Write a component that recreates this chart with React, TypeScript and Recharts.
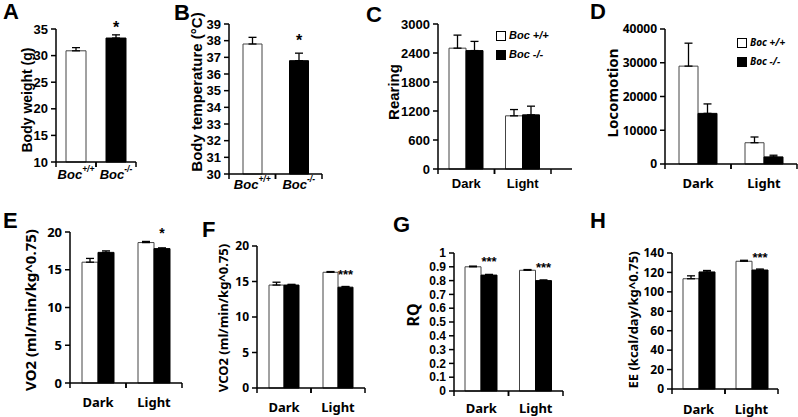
import { BarChart, Bar, XAxis, YAxis, ErrorBar, LabelList, Legend, Cell } from "recharts";

// A / B: one bar per genotype
const genotypes = ["+/+", "-/-"];

const bodyWeight = [30.9, 33.3];
const bodyWeightErr = [0.6, 0.6];
const bodyWeightSig = ["", "*"];
const bodyWeightTicks = [10, 15, 20, 25, 30, 35];

const bodyTemp = [37.8, 36.8];
const bodyTempErr = [0.4, 0.45];
const bodyTempSig = ["", "*"];
const bodyTempTicks = [30, 31, 32, 33, 34, 35, 36, 37, 38, 39];

// C - H: Dark / Light, wild type vs knockout
const phases = ["Dark", "Light"];

const rearingWT = [2500, 1100];
const rearingKO = [2450, 1120];
const rearingErrWT = [270, 130];
const rearingErrKO = [190, 180];
const rearingSig = ["", ""];
const rearingTicks = [0, 600, 1200, 1800, 2400, 3000];

const locoWT = [29000, 6300];
const locoKO = [15000, 2100];
const locoErrWT = [6800, 1700];
const locoErrKO = [2800, 500];
const locoSig = ["", ""];
const locoTicks = [0, 10000, 20000, 30000, 40000];

const vo2WT = [16.0, 18.6];
const vo2KO = [17.3, 17.8];
const vo2ErrWT = [0.5, 0.15];
const vo2ErrKO = [0.2, 0.1];
const vo2Sig = ["", "*"];
const vo2Ticks = [0, 5, 10, 15, 20];

const vco2WT = [14.5, 16.3];
const vco2KO = [14.5, 14.2];
const vco2ErrWT = [0.4, 0.1];
const vco2ErrKO = [0.1, 0.1];
const vco2Sig = ["", "***"];
const vco2Ticks = [0, 5, 10, 15, 20];

const rqWT = [0.9, 0.875];
const rqKO = [0.84, 0.8];
const rqErrWT = [0.005, 0.005];
const rqErrKO = [0.005, 0.005];
const rqSig = ["***", "***"];
const rqTicks = [0, 0.1, 0.2, 0.3, 0.4, 0.5, 0.6, 0.7, 0.8, 0.9, 1];

const eeWT = [113.5, 131.5];
const eeKO = [120.5, 122.5];
const eeErrWT = [3, 1];
const eeErrKO = [1.5, 1];
const eeSig = ["", "***"];
const eeTicks = [0, 20, 40, 60, 80, 100, 120, 140];

const legendNames = ["Boc +/+", "Boc -/-"];

const ARIAL = "'Liberation Sans', Arial, sans-serif";
const MALGUN = "'Noto Sans', 'DejaVu Sans', sans-serif";

const singleRows = (vals: number[], errs: number[], sig: string[]) =>
  genotypes.map((g, i) => ({ name: g, value: vals[i], err: [0, errs[i]], sig: sig[i] }));

const groupRows = (wt: number[], ko: number[], wtErr: number[], koErr: number[], sig: string[]) =>
  phases.map((p, i) => ({ name: p, wt: wt[i], ko: ko[i], wtErr: [0, wtErr[i]], koErr: [0, koErr[i]], sig: sig[i] }));

type Cfg = {
  left: number; top: number; width: number; height: number;
  yw: number; mt: number; mr: number; xh: number;
  ticks: number[];
  title: string; tx: number; ty: number; titleSize: number;
  font: string; tickFont?: string; tickSize: number; labelSize: number; labelGap: number;
  barSize: number; padRight?: number; sigOffset: number; sigSize: number;
  sup?: boolean;
  legend?: { x: number; y: number; size: number };
};

const AxisTitle = (props: any) => {
  const { cfg } = props;
  const x = cfg.tx - cfg.left;
  const y = cfg.ty - cfg.top;
  return (
    <text x={x} y={y} transform={`rotate(-90 ${x} ${y})`} textAnchor="middle" dominantBaseline="central"
      fontFamily={cfg.font} fontSize={cfg.titleSize} fontWeight={700} fill="#000">
      {cfg.title}
    </text>
  );
};

const CategoryTick = (props: any) => {
  const { x, y, payload, cfg } = props;
  const n = cfg.sup ? genotypes.length : phases.length;
  const fallback = (cfg.width - cfg.yw - cfg.mr - (cfg.padRight || 0)) / n / 2;
  const half = payload && payload.offset ? payload.offset : fallback;
  return (
    <g>
      <line x1={x - half} x2={x - half} y1={y} y2={y + 5} stroke="#000" strokeWidth={1.5} />
      <line x1={x + half} x2={x + half} y1={y} y2={y + 5} stroke="#000" strokeWidth={1.5} />
      <text x={x} y={y + cfg.labelGap} textAnchor="middle" dominantBaseline="central"
        fontFamily={cfg.font} fontSize={cfg.labelSize} fontWeight={700} fill="#000"
        fontStyle={cfg.sup ? "italic" : "normal"}>
        {cfg.sup ? (
          <>
            <tspan>Boc</tspan>
            <tspan fontSize={cfg.labelSize * 0.65} baselineShift="super">{payload.value}</tspan>
          </>
        ) : (
          payload.value
        )}
      </text>
    </g>
  );
};

const LegendBox = (props: any) => {
  const { payload, cfg } = props;
  return (
    <div style={{ fontFamily: cfg.font, fontSize: cfg.legend.size, fontWeight: 700, fontStyle: "italic", lineHeight: "19px", color: "#000" }}>
      {(payload || []).map((item: any) => (
        <div key={item.value} style={{ display: "flex", alignItems: "center", whiteSpace: "nowrap" }}>
          <span style={{ display: "inline-block", width: 8, height: 8, border: "1px solid #000", background: item.dataKey === "wt" ? "#fff" : "#000", marginRight: 3 }} />
          {item.value}
        </div>
      ))}
    </div>
  );
};

const yAxisFor = (cfg: Cfg) => (
  <YAxis
    width={cfg.yw}
    domain={[cfg.ticks[0], cfg.ticks[cfg.ticks.length - 1]]}
    ticks={cfg.ticks}
    interval={0}
    axisLine={{ stroke: "#000", strokeWidth: 1.5 }}
    tickLine={{ stroke: "#000", strokeWidth: 1.5 }}
    tickSize={5}
    tickMargin={3}
    tick={{ fill: "#000", fontSize: cfg.tickSize, fontWeight: 700, fontFamily: cfg.tickFont || cfg.font }}
    label={<AxisTitle cfg={cfg} />}
  />
);

const xAxisFor = (cfg: Cfg) => (
  <XAxis
    dataKey="name"
    height={cfg.xh}
    interval={0}
    axisLine={{ stroke: "#000", strokeWidth: 1.5 }}
    tickLine={false}
    tickSize={0}
    tickMargin={0}
    padding={{ left: 0, right: cfg.padRight || 0 }}
    tick={<CategoryTick cfg={cfg} />}
  />
);

const sigLabel = (cfg: Cfg) => (
  <LabelList dataKey="sig" position="top" offset={cfg.sigOffset} fill="#000"
    style={{ fontFamily: ARIAL, fontSize: cfg.sigSize, fontWeight: 700 }} />
);

const SinglePanel = ({ cfg, rows }: { cfg: Cfg; rows: any[] }) => (
  <div style={{ position: "absolute", left: cfg.left, top: cfg.top }}>
    <BarChart width={cfg.width} height={cfg.height} data={rows} barSize={cfg.barSize}
      margin={{ top: cfg.mt, right: cfg.mr, left: 0, bottom: 0 }}>
      {xAxisFor(cfg)}
      {yAxisFor(cfg)}
      <Bar dataKey="value" isAnimationActive={false} strokeWidth={1}>
        {rows.map((r, i) => (
          <Cell key={r.name} fill={i === 0 ? "#fff" : "#000"} stroke={i === 0 ? "#444" : "#000"} />
        ))}
        <ErrorBar dataKey="err" direction="y" width={4} stroke="#000" strokeWidth={1.3} />
        {sigLabel(cfg)}
      </Bar>
    </BarChart>
  </div>
);

const GroupPanel = ({ cfg, rows }: { cfg: Cfg; rows: any[] }) => (
  <div style={{ position: "absolute", left: cfg.left, top: cfg.top }}>
    <BarChart width={cfg.width} height={cfg.height} data={rows} barSize={cfg.barSize} barGap={0}
      margin={{ top: cfg.mt, right: cfg.mr, left: 0, bottom: 0 }}>
      {xAxisFor(cfg)}
      {yAxisFor(cfg)}
      <Bar dataKey="wt" name={legendNames[0]} fill="#fff" stroke="#444" strokeWidth={1} isAnimationActive={false}>
        <ErrorBar dataKey="wtErr" direction="y" width={4} stroke="#000" strokeWidth={1.3} />
      </Bar>
      <Bar dataKey="ko" name={legendNames[1]} fill="#000" stroke="#000" strokeWidth={1} isAnimationActive={false}>
        <ErrorBar dataKey="koErr" direction="y" width={4} stroke="#000" strokeWidth={1.3} />
        {sigLabel(cfg)}
      </Bar>
      {cfg.legend && (
        <Legend layout="vertical" align="center" verticalAlign="middle"
          wrapperStyle={{ left: cfg.legend.x, top: cfg.legend.y, right: "auto", bottom: "auto", width: "auto", height: "auto" }}
          content={<LegendBox cfg={cfg} />} />
      )}
    </BarChart>
  </div>
);

const cfgA: Cfg = {
  left: 0, top: 0, width: 170, height: 205, yw: 56, mt: 29, mr: 34, xh: 43,
  ticks: bodyWeightTicks, title: "Body weight (g)", tx: 27, ty: 100, titleSize: 14,
  font: ARIAL, tickSize: 13, labelSize: 13, labelGap: 12, barSize: 20, sigOffset: 5, sigSize: 16, sup: true,
};
const cfgB: Cfg = {
  left: 170, top: 0, width: 200, height: 205, yw: 59, mt: 24, mr: 48, xh: 31,
  ticks: bodyTempTicks, title: "Body temperature (\u00B0C)", tx: 196, ty: 92, titleSize: 15,
  font: ARIAL, tickSize: 13, labelSize: 13, labelGap: 10, barSize: 19, sigOffset: 15, sigSize: 16, sup: true,
};
const cfgC: Cfg = {
  left: 370, top: 0, width: 205, height: 205, yw: 68, mt: 24, mr: 3, xh: 36, padRight: 21,
  ticks: rearingTicks, title: "Rearing", tx: 393, ty: 92, titleSize: 15,
  font: ARIAL, tickSize: 13, labelSize: 13, labelGap: 14, barSize: 17, sigOffset: 8, sigSize: 14,
  legend: { x: 126, y: 26, size: 11 },
};
const cfgD: Cfg = {
  left: 575, top: 0, width: 223, height: 205, yw: 90, mt: 29, mr: 1, xh: 41,
  ticks: locoTicks, title: "Locomotion", tx: 612, ty: 93, titleSize: 15,
  font: MALGUN, tickSize: 12, labelSize: 13, labelGap: 19, barSize: 19, sigOffset: 8, sigSize: 14,
  legend: { x: 162, y: 33, size: 10 },
};
const cfgE: Cfg = {
  left: 0, top: 205, width: 190, height: 212, yw: 70, mt: 27, mr: 8, xh: 34,
  ticks: vo2Ticks, title: "VO2 (ml/min/kg^0.75)", tx: 30, ty: 310, titleSize: 15,
  font: MALGUN, tickSize: 13, labelSize: 13, labelGap: 19, barSize: 16, sigOffset: 11, sigSize: 14,
};
const cfgF: Cfg = {
  left: 190, top: 205, width: 195, height: 212, yw: 67, mt: 41, mr: 20, xh: 29,
  ticks: vco2Ticks, title: "VCO2 (ml/min/kg^0.75)", tx: 223, ty: 318, titleSize: 13,
  font: MALGUN, tickSize: 12, labelSize: 13, labelGap: 19, barSize: 15, sigOffset: 8, sigSize: 13,
};
const cfgG: Cfg = {
  left: 385, top: 205, width: 200, height: 212, yw: 69, mt: 48, mr: 22, xh: 26,
  ticks: rqTicks, title: "RQ", tx: 413, ty: 315, titleSize: 16,
  font: MALGUN, tickFont: ARIAL, tickSize: 12, labelSize: 13, labelGap: 17, barSize: 16, sigOffset: 9, sigSize: 13,
};
const cfgH: Cfg = {
  left: 585, top: 205, width: 213, height: 212, yw: 87, mt: 48, mr: 20, xh: 28,
  ticks: eeTicks, title: "EE (kcal/day/kg^0.75)", tx: 633, ty: 320, titleSize: 13,
  font: MALGUN, tickSize: 12, labelSize: 13, labelGap: 20, barSize: 16, sigOffset: 8, sigSize: 13,
};

const panelLetters = [
  { t: "A", x: 3, y: 19 },
  { t: "B", x: 174, y: 20 },
  { t: "C", x: 366, y: 22 },
  { t: "D", x: 590, y: 19 },
  { t: "E", x: 3, y: 228 },
  { t: "F", x: 202, y: 237 },
  { t: "G", x: 393, y: 232 },
  { t: "H", x: 590, y: 228 },
];

export default function App() {
  return (
    <div style={{ position: "absolute", left: 0, top: 0, width: 798, height: 417, background: "#fff", overflow: "hidden" }}>
      <svg width={798} height={417} style={{ position: "absolute", left: 0, top: 0 }}>
        {panelLetters.map((l) => (
          <text key={l.t} x={l.x} y={l.y} fontFamily={ARIAL} fontSize={22} fontWeight={700} fill="#000">{l.t}</text>
        ))}
      </svg>
      <SinglePanel cfg={cfgA} rows={singleRows(bodyWeight, bodyWeightErr, bodyWeightSig)} />
      <SinglePanel cfg={cfgB} rows={singleRows(bodyTemp, bodyTempErr, bodyTempSig)} />
      <GroupPanel cfg={cfgC} rows={groupRows(rearingWT, rearingKO, rearingErrWT, rearingErrKO, rearingSig)} />
      <GroupPanel cfg={cfgD} rows={groupRows(locoWT, locoKO, locoErrWT, locoErrKO, locoSig)} />
      <GroupPanel cfg={cfgE} rows={groupRows(vo2WT, vo2KO, vo2ErrWT, vo2ErrKO, vo2Sig)} />
      <GroupPanel cfg={cfgF} rows={groupRows(vco2WT, vco2KO, vco2ErrWT, vco2ErrKO, vco2Sig)} />
      <GroupPanel cfg={cfgG} rows={groupRows(rqWT, rqKO, rqErrWT, rqErrKO, rqSig)} />
      <GroupPanel cfg={cfgH} rows={groupRows(eeWT, eeKO, eeErrWT, eeErrKO, eeSig)} />
    </div>
  );
}
